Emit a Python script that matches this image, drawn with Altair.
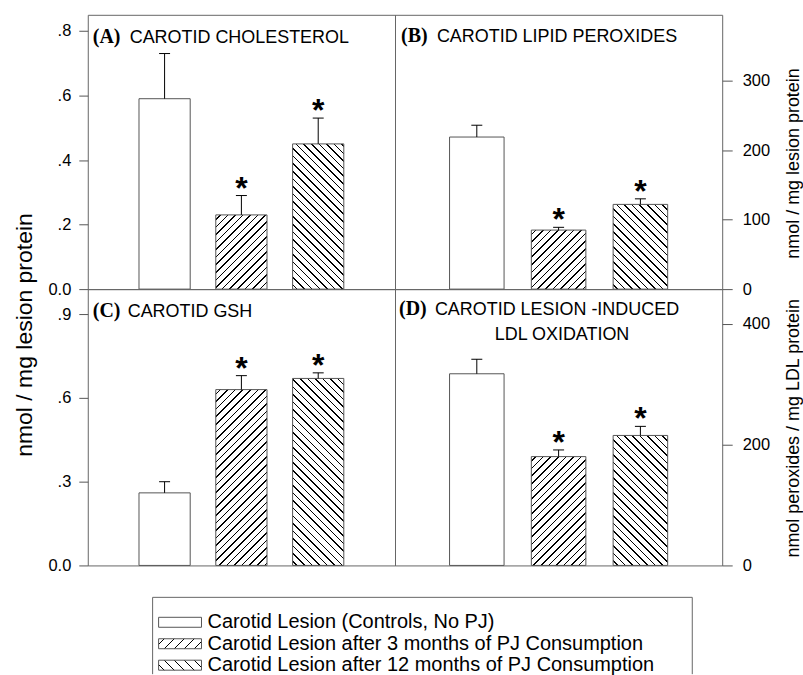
import math

import altair as alt
import pandas as pd

# Treatment groups (bar order within every panel)
GROUPS = [
    "Carotid Lesion (Controls, No PJ)",
    "Carotid Lesion after 3 months of PJ Consumption",
    "Carotid Lesion after 12 months of PJ Consumption",
]
POSITIONS = [1, 2, 3]
SIGNIFICANT = [False, True, True]

# (A) carotid cholesterol, nmol / mg lesion protein
CHOL_MEAN = [0.59, 0.23, 0.45]
CHOL_UPPER = [0.73, 0.29, 0.53]
# (B) carotid lipid peroxides, nmol / mg lesion protein
PEROX_MEAN = [219, 85, 122]
PEROX_UPPER = [236, 89, 130]
# (C) carotid GSH, nmol / mg lesion protein
GSH_MEAN = [0.26, 0.63, 0.67]
GSH_UPPER = [0.30, 0.68, 0.69]
# (D) lesion-induced LDL oxidation, nmol peroxides / mg LDL protein
LDL_MEAN = [317, 180, 215]
LDL_UPPER = [341, 191, 230]

# Axis ticks
CHOL_TICKS = [0, 0.2, 0.4, 0.6, 0.8]
PEROX_TICKS = [0, 100, 200, 300]
GSH_TICKS = [0, 0.3, 0.6, 0.9]
LDL_TICKS = [0, 200, 400]

SANS = "Liberation Sans"
SERIF = "Liberation Serif"
FRAME = "#666666"
EDGE = "#555555"

DEC_FMT = "datum.value == 0 ? '0.0' : replace(format(datum.value, '.1f'), '0.', '.')"
INT_FMT = "format(datum.value, 'd')"


def hatch(w, h, kind, spacing=7.6, thick=1.1):
    """Striped linear gradient giving 45-degree hatching on a w x h box."""
    span = w + h
    k = span / (w * w + h * h)
    if kind == "/":
        x1, y1, x2, y2 = 0, 0, k * w, k * h
    else:
        x1, y1, x2, y2 = 0, 1, k * w, 1 - k * h
    ds = spacing / span
    dt = thick * math.sqrt(2) / span
    stops = [{"offset": 0, "color": "white"}]
    s = ds * 0.5
    while s + dt < 1:
        a, b = round(s, 5), round(s + dt, 5)
        stops += [
            {"offset": a, "color": "white"},
            {"offset": a, "color": "black"},
            {"offset": b, "color": "black"},
            {"offset": b, "color": "white"},
        ]
        s += ds
    stops.append({"offset": 1, "color": "white"})
    return {
        "gradient": "linear",
        "x1": x1, "y1": y1,
        "x2": round(x2, 5), "y2": round(y2, 5),
        "stops": stops,
    }


def panel(means, uppers, ymax, ticks, width, height, side, fmt,
          labels, right_title=None, title_y=None, side_title=None):
    df = pd.DataFrame({"pos": POSITIONS, "mean": means,
                       "upper": uppers, "sig": SIGNIFICANT})
    cap = 5.5 / (width / 4)
    df["left"] = df["pos"] - 1 / 3
    df["right"] = df["pos"] + 1 / 3
    df["cap_l"] = df["pos"] - cap
    df["cap_r"] = df["pos"] + cap

    if side == "left":
        axis = alt.Axis(orient="left", values=ticks, labelExpr=fmt, tickSize=9,
                        tickColor=EDGE, domain=False, grid=False,
                        labelFont=SANS, labelFontSize=16.5, labelColor="black",
                        labelPadding=8, labelFlush=False, labelOverlap=False,
                        title=None)
    else:
        axis = alt.Axis(orient="right", values=ticks, labelExpr=fmt, tickSize=10,
                        tickColor=EDGE, domain=False, grid=False,
                        labelFont=SANS, labelFontSize=16.5, labelColor="black",
                        labelPadding=10, labelFlush=False, labelOverlap=False,
                        title=right_title, titleFont=SANS, titleFontSize=18,
                        titleFontWeight="normal", titleColor="black",
                        titleAngle=270, titleAlign="center",
                        titleBaseline="middle", titleX=71, titleY=title_y)

    xs = alt.Scale(domain=[0, 4], nice=False, zero=False)
    ys = alt.Scale(domain=[0, ymax], nice=False)

    def X(f):
        return alt.X(f"{f}:Q", scale=xs, axis=None)

    def Y(f):
        return alt.Y(f"{f}:Q", scale=ys, axis=axis)

    base = alt.Chart(df)
    bar_w = width / 6
    layers = [
        base.transform_filter("datum.pos == 1")
        .mark_rect(fill="white", stroke=EDGE, strokeWidth=1)
        .encode(x=X("left"), x2="right:Q", y=Y("mean"), y2=alt.datum(0))
    ]
    for pos, kind in [(2, "/"), (3, "\\")]:
        bar_h = means[pos - 1] / ymax * height
        layers.append(
            base.transform_filter(f"datum.pos == {pos}")
            .mark_rect(fill=hatch(bar_w, bar_h, kind), stroke=EDGE, strokeWidth=1)
            .encode(x=X("left"), x2="right:Q", y=Y("mean"), y2=alt.datum(0))
        )
    layers.append(
        base.mark_rule(color="black", strokeWidth=1)
        .encode(x=X("pos"), y=Y("mean"), y2="upper:Q")
    )
    layers.append(
        base.mark_rule(color="black", strokeWidth=1)
        .encode(x=X("cap_l"), x2="cap_r:Q", y=Y("upper"))
    )
    layers.append(
        base.transform_filter("datum.sig")
        .mark_text(text="*", font=SANS, fontWeight="bold", fontSize=32,
                   baseline="alphabetic", dy=3, color="black")
        .encode(x=X("pos"), y=Y("upper"))
    )

    one = pd.DataFrame({"k": [0]})
    for txt, x0, y0, font, weight, size in labels:
        layers.append(
            alt.Chart(one)
            .mark_text(text=txt, font=font, fontWeight=weight, fontSize=size,
                       align="left", baseline="alphabetic", color="black")
            .encode(x=alt.value(x0), y=alt.value(y0))
        )
    if side_title:
        layers.append(
            alt.Chart(one)
            .mark_text(text=side_title, font=SANS, fontSize=23, angle=270,
                       align="center", baseline="middle", color="black")
            .encode(x=alt.value(-63), y=alt.value(321))
        )

    return alt.layer(*layers).properties(
        width=width, height=height,
        view=alt.ViewBackground(stroke=FRAME, strokeWidth=1),
    )


TITLE = 18
TAG = 20

chart_a = panel(CHOL_MEAN, CHOL_UPPER, 0.85, CHOL_TICKS, 308, 275, "left", DEC_FMT,
                [("(A)", 5, 28, SERIF, "bold", TAG),
                 ("CAROTID CHOLESTEROL", 42, 28, SANS, "normal", TITLE)],
                side_title="nmol / mg lesion protein")
chart_b = panel(PEROX_MEAN, PEROX_UPPER, 395, PEROX_TICKS, 328, 275, "right", INT_FMT,
                [("(B)", 6, 27, SERIF, "bold", TAG),
                 ("CAROTID LIPID PEROXIDES", 42, 27, SANS, "normal", TITLE)],
                right_title="nmol / mg lesion protein", title_y=148.5)
chart_c = panel(GSH_MEAN, GSH_UPPER, 0.99, GSH_TICKS, 308, 277, "left", DEC_FMT,
                [("(C)", 5, 28, SERIF, "bold", TAG),
                 ("CAROTID GSH", 40, 28, SANS, "normal", TITLE)])
chart_d = panel(LDL_MEAN, LDL_UPPER, 457, LDL_TICKS, 328, 277, "right", INT_FMT,
                [("(D)", 4, 26, SERIF, "bold", TAG),
                 ("CAROTID LESION -INDUCED", 40, 26, SANS, "normal", TITLE),
                 ("LDL OXIDATION", 100, 51, SANS, "normal", TITLE)],
                right_title="nmol peroxides / mg LDL protein", title_y=139)

# Legend drawn as its own cell under the panels
leg = pd.DataFrame({"row": [0, 1, 2], "label": GROUPS})
ly = alt.Y("row:Q", scale=alt.Scale(domain=[0, 2], range=[57, 100]), axis=None)
swatch_fills = ["white", hatch(43, 10, "/", spacing=10), hatch(43, 10, "\\", spacing=10)]
legend_layers = []
for i, fill in enumerate(swatch_fills):
    legend_layers.append(
        alt.Chart(leg[leg["row"] == i])
        .mark_rect(height=10, fill=fill, stroke=EDGE, strokeWidth=1)
        .encode(x=alt.value(71), x2=alt.value(114), y=ly)
    )
legend_layers.append(
    alt.Chart(leg)
    .mark_text(align="left", baseline="middle", font=SANS, fontSize=20, color="black")
    .encode(x=alt.value(120), y=ly, text="label:N")
)
box = pd.DataFrame({"k": [0]})
legend_layers += [
    alt.Chart(box).mark_rule(color=FRAME)
    .encode(x=alt.value(65), x2=alt.value(606), y=alt.value(32)),
    alt.Chart(box).mark_rule(color=FRAME)
    .encode(x=alt.value(65), y=alt.value(32), y2=alt.value(109)),
    alt.Chart(box).mark_rule(color=FRAME)
    .encode(x=alt.value(606), y=alt.value(32), y2=alt.value(109)),
]
legend = alt.layer(*legend_layers).properties(
    width=308, height=109,
    view=alt.ViewBackground(stroke="transparent"),
)

chart = alt.concat(
    chart_a, chart_b, chart_c, chart_d, legend,
    columns=2, spacing=0, bounds="flush",
).properties(
    padding={"left": 13, "top": 13, "right": 0, "bottom": 0},
    background="white",
)

chart.save("out.html", embed_options={"renderer": "svg", "actions": False})
